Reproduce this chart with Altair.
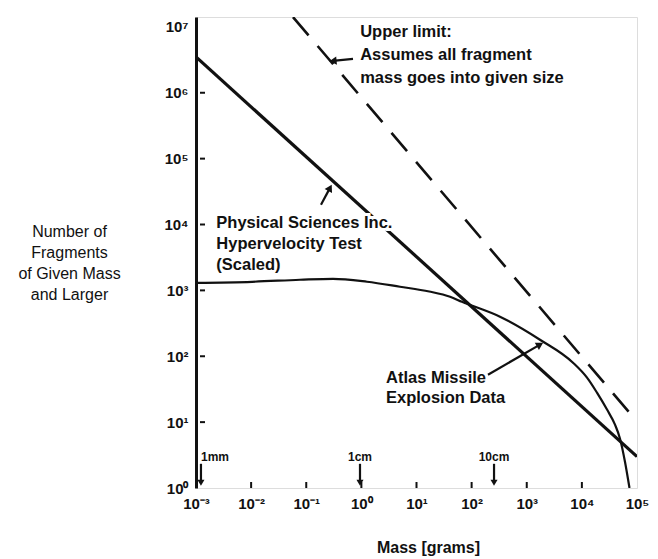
import altair as alt
import pandas as pd

# ---------------- data ----------------
x_ticks = [1e-3, 1e-2, 1e-1, 1e0, 1e1, 1e2, 1e3, 1e4, 1e5]
y_ticks = [1e0, 1e1, 1e2, 1e3, 1e4, 1e5, 1e6, 1e7]
x_inner_ticks = [1e-2, 1e-1, 1e0, 1e1, 1e2, 1e3, 1e4]
y_inner_ticks = [1e1, 1e2, 1e3, 1e4, 1e5, 1e6]

# Physical Sciences Inc. hypervelocity test (scaled)
psi_mass = [1e-3, 1e5]
psi_count = [3.5e6, 3.0]

# Upper limit (all fragment mass into given size)
upper_mass = [0.0575, 1e5]
upper_count = [1.41e7, 10.2]

# Atlas missile explosion data
atlas_mass = [0.001, 0.0104, 0.0771, 0.305, 1.265, 5.02, 17.0, 40.6, 66.8, 327,
              1738, 6902, 12400, 18790, 28580, 39900, 49200, 60500, 73100]
atlas_count = [1303, 1350, 1449, 1500, 1352, 1135, 960, 800, 671, 398,
               178, 79.8, 47.3, 28.0, 15.5, 9.16, 5.61, 2.51, 1.0]

# annotation texts
ann_text = ["Upper limit:\nAssumes all fragment\nmass goes into given size",
            "Physical Sciences Inc.\nHypervelocity Test\n(Scaled)",
            "Atlas Missile\nExplosion Data"]
ann_mass = [0.95, 0.00234, 2.8]
ann_count = [1.107e7, 13700, 61]

# annotation arrows (tail -> tip)
arrow_tail_mass = [0.705, 0.185, 198]
arrow_tail_count = [3.26e6, 19900, 52.5]
arrow_tip_mass = [0.305, 0.27, 1738]
arrow_tip_count = [3.04e6, 36000, 150]

# size markers on the mass axis
size_text = ["1mm", "1cm", "10cm"]
size_mass = [0.00123, 0.944, 255]
size_text_count = [2.98, 2.98, 2.98]
size_arrow_top = [2.33, 2.33, 2.33]
size_arrow_tip = [1.2, 1.2, 1.2]

# ---------------- styles ----------------
FONT = "Liberation Sans"
INK = "#111111"
W, H = 441, 471
arrow_angles = [265, 28, 60]          # screen direction of each annotation arrow
size_align = ["left", "center", "center"]
ann_line_height = [23, 21, 20]
ann_font_size = [16.5, 16.5, 16.5]

xscale = alt.Scale(type="log", domain=[1e-3, 1e5], nice=False)
yscale = alt.Scale(type="log", domain=[1, 10 ** 7.15], nice=False)

sup_expr = ("'10' + (datum.value < 1 ? '\u207b' : '') + "
            "substring('\u2070\u00b9\u00b2\u00b3\u2074\u2075\u2076\u2077\u2078\u2079', "
            "abs(round(log(datum.value)/LN10)), abs(round(log(datum.value)/LN10)) + 1)")

x_axis = alt.Axis(values=x_ticks, labelExpr=sup_expr, ticks=False, domain=False,
                  grid=False, labelFont=FONT, labelFontSize=15, labelFontWeight="bold",
                  labelColor=INK, labelPadding=8, labelFlush=False, labelOverlap=False,
                  labelBound=False,
                  title="Mass [grams]", titleFont=FONT, titleFontSize=16,
                  titleFontWeight="bold", titleColor=INK, titleX=232, titleY=59,
                  titleAlign="center", titleBaseline="middle")
y_axis = alt.Axis(values=y_ticks, labelExpr=sup_expr, ticks=False, domain=True,
                  domainColor=INK, domainWidth=3, grid=False, labelFont=FONT,
                  labelFontSize=15, labelFontWeight="bold", labelColor=INK,
                  labelPadding=8, labelFlush=False, labelOverlap=False, labelBound=False,
                  title=["Number of", "Fragments", "of Given Mass", "and Larger"],
                  titleFont=FONT, titleFontSize=16, titleFontWeight="normal",
                  titleColor=INK, titleAngle=0, titleX=-127, titleY=206,
                  titleAlign="center", titleBaseline="top", titleLineHeight=21)

psi_df = pd.DataFrame({"mass": psi_mass, "count": psi_count})
upper_df = pd.DataFrame({"mass": upper_mass, "count": upper_count})
atlas_df = pd.DataFrame({"mass": atlas_mass, "count": atlas_count})
xt_df = pd.DataFrame({"mass": x_inner_ticks})
yt_df = pd.DataFrame({"count": y_inner_ticks})
ann_df = pd.DataFrame({"mass": ann_mass, "count": ann_count, "text": ann_text})
arr_df = pd.DataFrame({"mass": arrow_tail_mass, "count": arrow_tail_count,
                       "mass2": arrow_tip_mass, "count2": arrow_tip_count})
head_df = pd.DataFrame({"mass": arrow_tip_mass, "count": arrow_tip_count,
                        "angle": arrow_angles})
size_df = pd.DataFrame({"mass": size_mass, "count": size_text_count, "text": size_text})
size_arrow_df = pd.DataFrame({"mass": size_mass, "count": size_arrow_top,
                              "count2": size_arrow_tip})
size_head_df = pd.DataFrame({"mass": size_mass, "count": size_arrow_tip})

X = lambda: alt.X("mass:Q", scale=xscale, axis=x_axis)
Y = lambda: alt.Y("count:Q", scale=yscale, axis=y_axis)

upper = alt.Chart(upper_df).mark_line(color=INK, strokeWidth=2.6,
                                      strokeDash=[24, 14], clip=True).encode(x=X(), y=Y())
psi = alt.Chart(psi_df).mark_line(color=INK, strokeWidth=3.2, clip=True).encode(x=X(), y=Y())
atlas = alt.Chart(atlas_df).mark_line(color=INK, strokeWidth=2.2, interpolate="monotone",
                                      clip=True).encode(x=X(), y=Y())

xt = alt.Chart(xt_df).mark_rule(color=INK, strokeWidth=2).encode(
    x=X(), y=alt.value(H), y2=alt.value(H - 6))
yt = alt.Chart(yt_df).mark_rule(color=INK, strokeWidth=2).encode(
    y=Y(), x=alt.value(4), x2=alt.value(9))

texts = []
for i in range(len(ann_text)):
    common = dict(align="left", baseline="top", font=FONT, fontSize=ann_font_size[i],
                  fontWeight="bold", lineHeight=ann_line_height[i], lineBreak="\n")
    # white knock-out underneath so the lines pass behind the lettering
    texts.append(alt.Chart(ann_df.iloc[[i]]).mark_text(
        color="white", stroke="white", strokeWidth=6, **common).encode(
        x=X(), y=Y(), text="text:N"))
    texts.append(alt.Chart(ann_df.iloc[[i]]).mark_text(color=INK, **common).encode(
        x=X(), y=Y(), text="text:N"))

shafts = alt.Chart(arr_df).mark_rule(color=INK, strokeWidth=2.2).encode(
    x=X(), y=Y(), x2="mass2:Q", y2="count2:Q")
heads = alt.Chart(head_df).mark_point(shape="triangle-up", filled=True, size=70,
                                      color=INK, opacity=1).encode(
    x=X(), y=Y(), angle=alt.Angle("angle:Q", scale=None))

size_shafts = alt.Chart(size_arrow_df).mark_rule(color=INK, strokeWidth=2.2).encode(
    x=X(), y=Y(), y2="count2:Q")
size_heads = alt.Chart(size_head_df).mark_point(shape="triangle-down", filled=True,
                                                size=50, color=INK, opacity=1).encode(
    x=X(), y=Y())
size_labels = []
for i in range(len(size_text)):
    size_labels.append(alt.Chart(size_df.iloc[[i]]).mark_text(
        align=size_align[i], baseline="middle", font=FONT, fontSize=12,
        fontWeight="bold", color=INK).encode(x=X(), y=Y(), text="text:N"))

chart = alt.layer(upper, psi, atlas, xt, yt, *texts, shafts, heads, size_shafts,
                  size_heads, *size_labels).properties(
    width=W, height=H,
    padding={"left": 196, "top": 17, "right": 21, "bottom": 71},
    autosize=alt.AutoSizeParams(type="none"),
    background="white",
).configure_view(stroke=INK, strokeWidth=2.5).configure(font=FONT)

chart.save("out.html", embed_options={"renderer": "svg", "actions": False})
